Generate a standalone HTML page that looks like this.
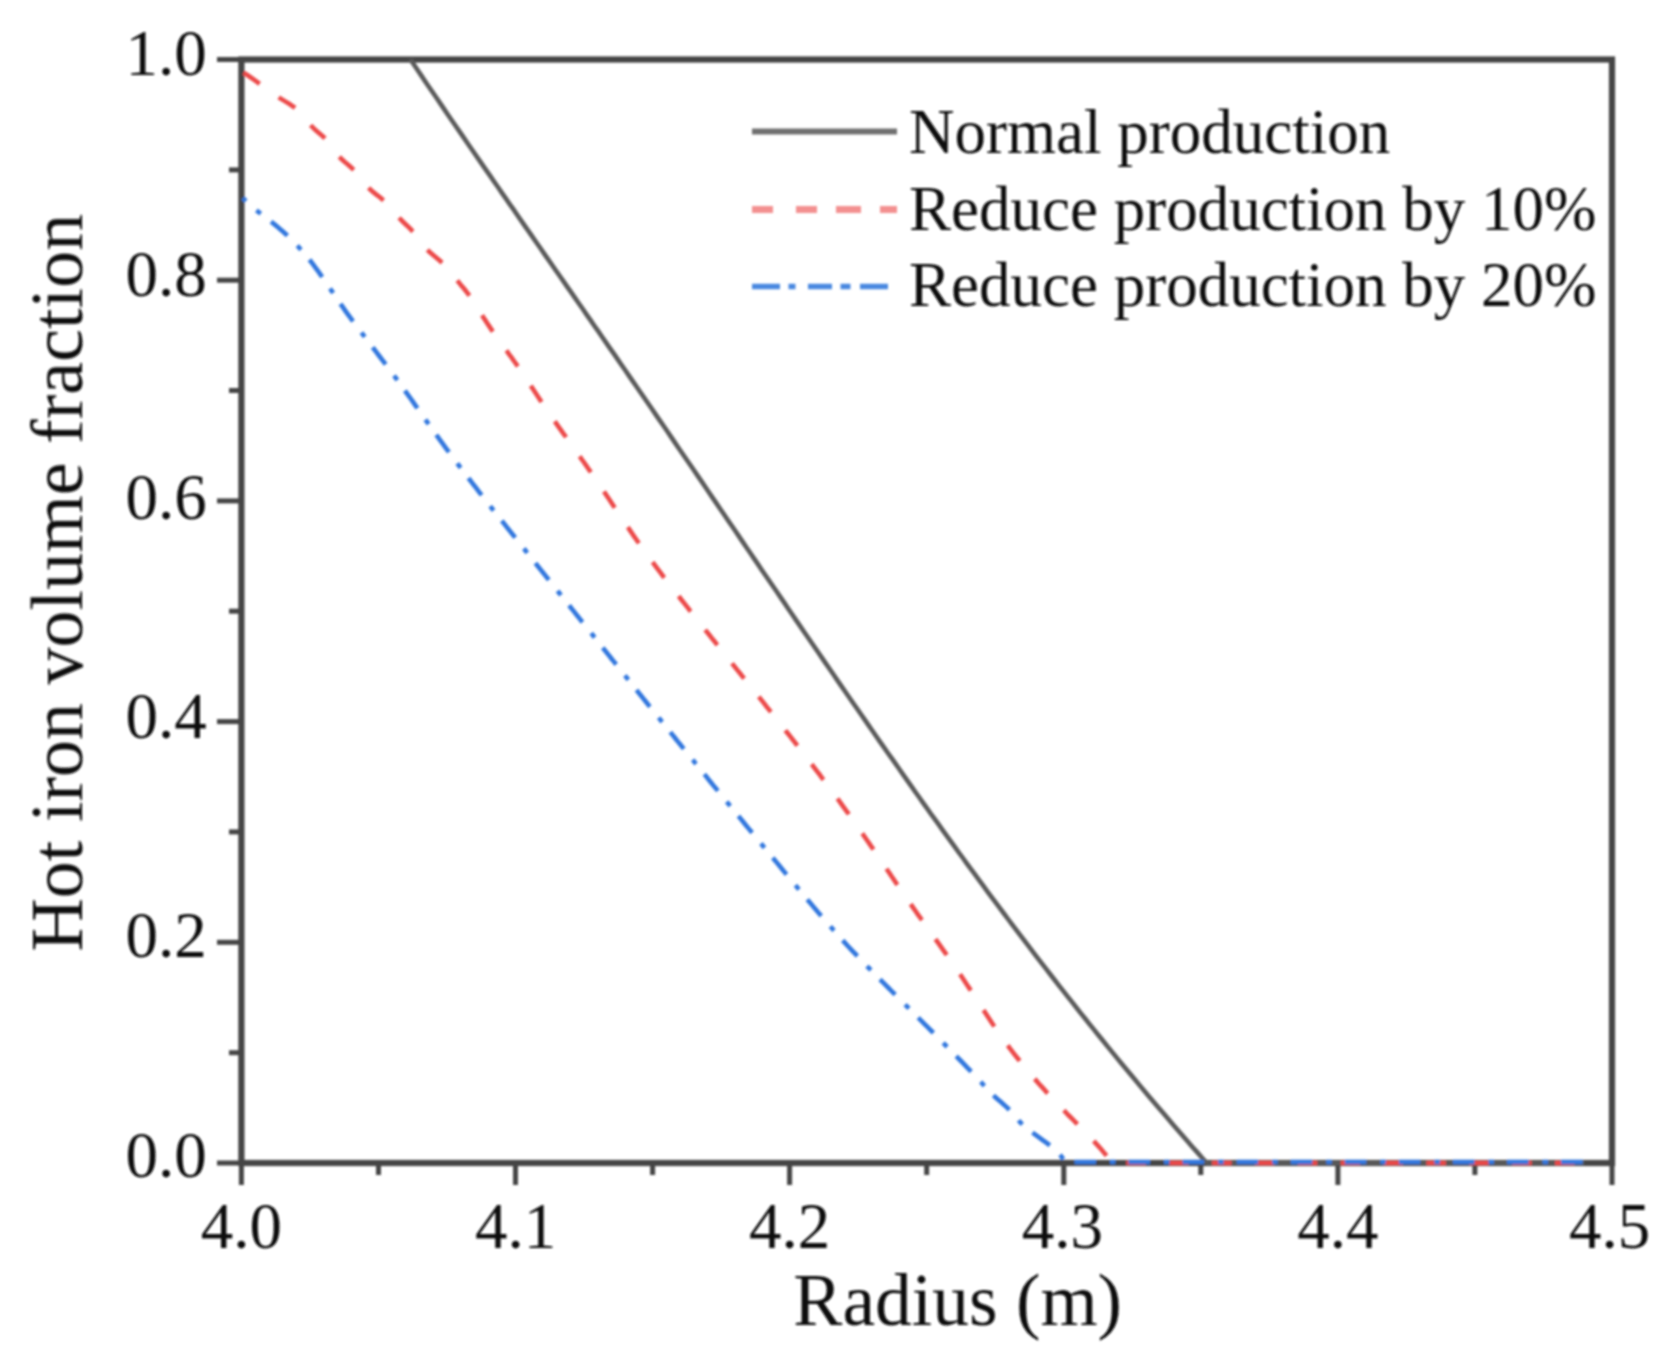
<!DOCTYPE html>
<html><head><meta charset="utf-8"><title>Hot iron volume fraction</title>
<style>
html,body{margin:0;padding:0;background:#fff;}
svg{display:block;}
.ax{stroke:#444;stroke-width:5;fill:none;}
.fr{stroke:#444;stroke-width:6.2;fill:none;}
.tk{font-family:"Liberation Serif",serif;font-size:65px;fill:#111;}
.tt{font-family:"Liberation Serif",serif;font-size:73.5px;fill:#111;}
.lg{font-family:"Liberation Serif",serif;font-size:63px;fill:#111;}
.ck{stroke:#5a5a5a;stroke-width:4.6;fill:none;stroke-linejoin:round;}
.cr{stroke:#ec4a4a;stroke-width:4.6;fill:none;stroke-dasharray:19.5 23.37;stroke-dashoffset:-2.25;stroke-linejoin:round;}
.cb{stroke:#3277de;stroke-width:4.6;fill:none;stroke-dasharray:21.5 14 5.5 13.07;stroke-dashoffset:17.25;stroke-linejoin:round;}
.lk{stroke:#707070;stroke-width:6;}
.lr{stroke:#f39090;stroke-width:7;}
.lb{stroke:#4a88e0;stroke-width:5.5;}
</style></head>
<body>
<svg width="1666" height="1360" viewBox="0 0 1666 1360">
<rect width="1666" height="1360" fill="#fff"/>
<defs><filter id="bl" x="0" y="0" width="100%" height="100%" filterUnits="userSpaceOnUse"><feGaussianBlur stdDeviation="1.2"/></filter></defs>
<g filter="url(#bl)">
<rect x="241.4" y="59.5" width="1370.6" height="1103.5" class="fr"/>
<line x1="241.4" y1="1163.0" x2="241.4" y2="1185" class="ax"/>
<line x1="515.5" y1="1163.0" x2="515.5" y2="1185" class="ax"/>
<line x1="789.6" y1="1163.0" x2="789.6" y2="1185" class="ax"/>
<line x1="1063.8" y1="1163.0" x2="1063.8" y2="1185" class="ax"/>
<line x1="1337.9" y1="1163.0" x2="1337.9" y2="1185" class="ax"/>
<line x1="1612.0" y1="1163.0" x2="1612.0" y2="1185" class="ax"/>
<line x1="378.5" y1="1163.0" x2="378.5" y2="1175" class="ax"/>
<line x1="652.6" y1="1163.0" x2="652.6" y2="1175" class="ax"/>
<line x1="926.7" y1="1163.0" x2="926.7" y2="1175" class="ax"/>
<line x1="1200.8" y1="1163.0" x2="1200.8" y2="1175" class="ax"/>
<line x1="1474.9" y1="1163.0" x2="1474.9" y2="1175" class="ax"/>
<line x1="217" y1="1163.0" x2="241.4" y2="1163.0" class="ax"/>
<line x1="217" y1="942.3" x2="241.4" y2="942.3" class="ax"/>
<line x1="217" y1="721.6" x2="241.4" y2="721.6" class="ax"/>
<line x1="217" y1="500.9" x2="241.4" y2="500.9" class="ax"/>
<line x1="217" y1="280.2" x2="241.4" y2="280.2" class="ax"/>
<line x1="217" y1="59.5" x2="241.4" y2="59.5" class="ax"/>
<line x1="229" y1="1052.7" x2="241.4" y2="1052.7" class="ax"/>
<line x1="229" y1="831.9" x2="241.4" y2="831.9" class="ax"/>
<line x1="229" y1="611.2" x2="241.4" y2="611.2" class="ax"/>
<line x1="229" y1="390.5" x2="241.4" y2="390.5" class="ax"/>
<line x1="229" y1="169.9" x2="241.4" y2="169.9" class="ax"/>
<g>
<path d="M410.4,59.5 L414.2,65.0 L417.9,70.6 L421.7,76.1 L425.4,81.7 L429.2,87.2 L433.0,92.8 L436.8,98.3 L440.6,103.9 L444.3,109.4 L448.1,115.0 L451.9,120.5 L455.7,126.0 L459.6,131.6 L463.4,137.1 L467.2,142.7 L471.0,148.2 L474.8,153.8 L478.7,159.3 L482.5,164.9 L486.3,170.4 L490.2,175.9 L494.0,181.5 L497.9,187.0 L501.7,192.6 L505.6,198.1 L509.4,203.7 L513.3,209.2 L517.1,214.8 L521.0,220.3 L524.8,225.9 L528.7,231.4 L532.5,236.9 L536.4,242.5 L540.3,248.0 L544.1,253.6 L548.0,259.1 L551.9,264.7 L555.7,270.2 L559.6,275.8 L563.5,281.3 L567.3,286.9 L571.2,292.4 L575.0,297.9 L578.9,303.5 L582.8,309.0 L586.6,314.6 L590.5,320.1 L594.3,325.7 L598.2,331.2 L602.0,336.8 L605.9,342.3 L609.7,347.9 L613.6,353.4 L617.4,358.9 L621.2,364.5 L625.1,370.0 L628.9,375.6 L632.7,381.1 L636.6,386.7 L640.4,392.2 L644.2,397.8 L648.0,403.3 L651.8,408.8 L655.6,414.4 L659.4,419.9 L663.3,425.5 L667.1,431.0 L670.9,436.6 L674.6,442.1 L678.4,447.7 L682.2,453.2 L686.0,458.8 L689.8,464.3 L693.6,469.8 L697.4,475.4 L701.2,480.9 L705.0,486.5 L708.7,492.0 L712.5,497.6 L716.3,503.1 L720.1,508.7 L723.9,514.2 L727.6,519.8 L731.4,525.3 L735.2,530.8 L739.0,536.4 L742.7,541.9 L746.5,547.5 L750.3,553.0 L754.1,558.6 L757.9,564.1 L761.6,569.7 L765.4,575.2 L769.2,580.8 L773.0,586.3 L776.8,591.8 L780.6,597.4 L784.4,602.9 L788.1,608.5 L791.9,614.0 L795.7,619.6 L799.5,625.1 L803.3,630.7 L807.1,636.2 L810.9,641.7 L814.7,647.3 L818.5,652.8 L822.3,658.4 L826.1,663.9 L830.0,669.5 L833.8,675.0 L837.6,680.6 L841.4,686.1 L845.3,691.7 L849.1,697.2 L852.9,702.7 L856.8,708.3 L860.6,713.8 L864.5,719.4 L868.3,724.9 L872.2,730.5 L876.0,736.0 L879.9,741.6 L883.8,747.1 L887.7,752.7 L891.6,758.2 L895.5,763.7 L899.4,769.3 L903.3,774.8 L907.2,780.4 L911.1,785.9 L915.0,791.5 L919.0,797.0 L922.9,802.6 L926.9,808.1 L930.8,813.7 L934.8,819.2 L938.8,824.7 L942.8,830.3 L946.8,835.8 L950.8,841.4 L954.8,846.9 L958.8,852.5 L962.9,858.0 L966.9,863.6 L971.0,869.1 L975.1,874.6 L979.1,880.2 L983.2,885.7 L987.3,891.3 L991.4,896.8 L995.6,902.4 L999.7,907.9 L1003.9,913.5 L1008.0,919.0 L1012.2,924.6 L1016.4,930.1 L1020.6,935.6 L1024.8,941.2 L1029.0,946.7 L1033.3,952.3 L1037.5,957.8 L1041.8,963.4 L1046.1,968.9 L1050.4,974.5 L1054.7,980.0 L1059.0,985.6 L1063.4,991.1 L1067.7,996.6 L1072.1,1002.2 L1076.5,1007.7 L1080.9,1013.3 L1085.3,1018.8 L1089.7,1024.4 L1094.2,1029.9 L1098.7,1035.5 L1103.2,1041.0 L1107.7,1046.6 L1112.2,1052.1 L1116.7,1057.6 L1121.3,1063.2 L1125.9,1068.7 L1130.5,1074.3 L1135.1,1079.8 L1139.7,1085.4 L1144.4,1090.9 L1149.0,1096.5 L1153.7,1102.0 L1158.4,1107.5 L1163.2,1113.1 L1167.9,1118.6 L1172.7,1124.2 L1177.5,1129.7 L1182.3,1135.3 L1187.1,1140.8 L1192.0,1146.4 L1196.9,1151.9 L1201.8,1157.5 L1206.7,1163.0 L1584.0,1163.0" class="ck"/>
<path d="M241.7,71.5 L246.0,74.2 L250.1,77.0 L253.9,79.7 L257.7,82.4 L261.4,85.2 L265.1,87.9 L268.8,90.6 L272.7,93.4 L276.8,96.1 L281.1,98.9 L285.6,101.6 L290.0,104.3 L294.0,107.1 L297.4,109.8 L300.2,112.5 L302.6,115.3 L304.7,118.0 L306.8,120.7 L309.0,123.5 L311.5,126.2 L314.3,128.9 L317.5,131.7 L320.7,134.4 L323.8,137.2 L326.4,139.9 L328.7,142.6 L330.7,145.4 L332.6,148.1 L334.4,150.8 L336.5,153.6 L338.8,156.3 L341.5,159.0 L344.5,161.8 L347.8,164.5 L350.9,167.2 L353.9,170.0 L356.4,172.7 L358.6,175.5 L360.5,178.2 L362.5,180.9 L364.6,183.7 L367.0,186.4 L369.8,189.1 L373.0,191.9 L376.4,194.6 L379.9,197.3 L383.1,200.1 L386.0,202.8 L388.6,205.5 L390.9,208.3 L393.2,211.0 L395.5,213.8 L397.9,216.5 L400.4,219.2 L403.2,222.0 L406.1,224.7 L408.9,227.4 L411.6,230.2 L414.0,232.9 L416.2,235.6 L418.2,238.4 L420.1,241.1 L422.2,243.8 L424.4,246.6 L426.8,249.3 L429.6,252.0 L432.8,254.8 L436.1,257.5 L439.4,260.3 L442.5,263.0 L445.3,265.7 L447.8,268.5 L450.1,271.2 L452.2,273.9 L454.3,276.7 L456.4,279.4 L458.6,282.1 L460.8,284.9 L463.1,287.6 L465.3,290.3 L467.5,293.1 L469.6,295.8 L471.6,298.6 L473.5,301.3 L475.2,304.0 L477.0,306.8 L478.6,309.5 L480.3,312.2 L481.9,315.0 L483.6,317.7 L485.4,320.4 L487.2,323.2 L489.0,325.9 L490.8,328.6 L492.7,331.4 L494.6,334.1 L496.6,336.9 L498.5,339.6 L500.5,342.3 L502.5,345.1 L504.5,347.8 L506.5,350.5 L508.4,353.3 L510.4,356.0 L512.4,358.7 L514.3,361.5 L516.3,364.2 L518.2,366.9 L520.1,369.7 L521.9,372.4 L523.8,375.2 L525.6,377.9 L527.4,380.6 L529.2,383.4 L531.0,386.1 L532.8,388.8 L534.6,391.6 L536.4,394.3 L538.2,397.0 L540.0,399.8 L541.8,402.5 L543.6,405.2 L545.5,408.0 L547.4,410.7 L549.2,413.4 L551.1,416.2 L553.0,418.9 L555.0,421.7 L556.9,424.4 L558.8,427.1 L560.8,429.9 L562.7,432.6 L564.7,435.3 L566.6,438.1 L568.6,440.8 L570.5,443.5 L572.5,446.3 L574.4,449.0 L576.4,451.7 L578.3,454.5 L580.3,457.2 L582.2,460.0 L584.2,462.7 L586.1,465.4 L588.0,468.2 L589.9,470.9 L591.8,473.6 L593.7,476.4 L595.6,479.1 L597.4,481.8 L599.3,484.6 L601.1,487.3 L603.0,490.0 L604.8,492.8 L606.6,495.5 L608.5,498.3 L610.3,501.0 L612.1,503.7 L613.9,506.5 L615.7,509.2 L617.6,511.9 L619.4,514.7 L621.2,517.4 L623.1,520.1 L624.9,522.9 L626.7,525.6 L628.6,528.3 L630.5,531.1 L632.3,533.8 L634.2,536.6 L636.1,539.3 L638.0,542.0 L640.0,544.8 L641.9,547.5 L643.9,550.2 L645.9,553.0 L647.8,555.7 L649.8,558.4 L651.9,561.2 L653.9,563.9 L655.9,566.6 L658.0,569.4 L660.1,572.1 L662.1,574.8 L664.2,577.6 L666.3,580.3 L668.4,583.1 L670.5,585.8 L672.7,588.5 L674.8,591.3 L676.9,594.0 L679.1,596.7 L681.2,599.5 L683.4,602.2 L685.5,604.9 L687.7,607.7 L689.8,610.4 L692.0,613.1 L694.2,615.9 L696.4,618.6 L698.5,621.4 L700.7,624.1 L702.9,626.8 L705.0,629.6 L707.2,632.3 L709.4,635.0 L711.6,637.8 L713.8,640.5 L715.9,643.2 L718.1,646.0 L720.3,648.7 L722.5,651.4 L724.7,654.2 L726.9,656.9 L729.1,659.7 L731.3,662.4 L733.4,665.1 L735.6,667.9 L737.8,670.6 L740.0,673.3 L742.2,676.1 L744.4,678.8 L746.6,681.5 L748.8,684.3 L750.9,687.0 L753.1,689.7 L755.3,692.5 L757.5,695.2 L759.7,697.9 L761.9,700.7 L764.1,703.4 L766.2,706.2 L768.4,708.9 L770.6,711.6 L772.8,714.4 L774.9,717.1 L777.1,719.8 L779.3,722.6 L781.4,725.3 L783.6,728.0 L785.7,730.8 L787.9,733.5 L790.0,736.2 L792.2,739.0 L794.3,741.7 L796.5,744.5 L798.6,747.2 L800.7,749.9 L802.8,752.7 L804.9,755.4 L807.0,758.1 L809.1,760.9 L811.2,763.6 L813.3,766.3 L815.4,769.1 L817.5,771.8 L819.6,774.5 L821.6,777.3 L823.7,780.0 L825.7,782.8 L827.8,785.5 L829.8,788.2 L831.8,791.0 L833.8,793.7 L835.8,796.4 L837.9,799.2 L839.9,801.9 L841.8,804.6 L843.8,807.4 L845.8,810.1 L847.8,812.8 L849.7,815.6 L851.7,818.3 L853.6,821.1 L855.6,823.8 L857.5,826.5 L859.4,829.3 L861.3,832.0 L863.2,834.7 L865.1,837.5 L867.0,840.2 L868.9,842.9 L870.8,845.7 L872.7,848.4 L874.5,851.1 L876.4,853.9 L878.2,856.6 L880.1,859.3 L882.0,862.1 L883.8,864.8 L885.7,867.6 L887.5,870.3 L889.4,873.0 L891.2,875.8 L893.1,878.5 L894.9,881.2 L896.8,884.0 L898.7,886.7 L900.5,889.4 L902.4,892.2 L904.3,894.9 L906.2,897.6 L908.1,900.4 L910.0,903.1 L911.9,905.9 L913.8,908.6 L915.7,911.3 L917.6,914.1 L919.6,916.8 L921.5,919.5 L923.5,922.3 L925.4,925.0 L927.4,927.7 L929.3,930.5 L931.3,933.2 L933.2,935.9 L935.2,938.7 L937.1,941.4 L939.1,944.2 L941.0,946.9 L942.9,949.6 L944.9,952.4 L946.8,955.1 L948.7,957.8 L950.6,960.6 L952.5,963.3 L954.4,966.0 L956.3,968.8 L958.2,971.5 L960.0,974.2 L961.9,977.0 L963.7,979.7 L965.5,982.5 L967.3,985.2 L969.1,987.9 L970.9,990.7 L972.6,993.4 L974.4,996.1 L976.2,998.9 L978.0,1001.6 L979.7,1004.3 L981.5,1007.1 L983.3,1009.8 L985.1,1012.5 L986.9,1015.3 L988.7,1018.0 L990.5,1020.7 L992.3,1023.5 L994.2,1026.2 L996.0,1029.0 L997.9,1031.7 L999.8,1034.4 L1001.8,1037.2 L1003.7,1039.9 L1005.7,1042.6 L1007.7,1045.4 L1009.7,1048.1 L1011.8,1050.8 L1013.9,1053.6 L1016.0,1056.3 L1018.2,1059.0 L1020.4,1061.8 L1022.6,1064.5 L1024.9,1067.3 L1027.1,1070.0 L1029.4,1072.7 L1031.8,1075.5 L1034.1,1078.2 L1036.5,1080.9 L1038.9,1083.7 L1041.4,1086.4 L1043.9,1089.1 L1046.3,1091.9 L1048.9,1094.6 L1051.4,1097.3 L1054.0,1100.1 L1056.6,1102.8 L1059.2,1105.6 L1061.8,1108.3 L1064.5,1111.0 L1067.1,1113.8 L1069.8,1116.5 L1072.5,1119.2 L1075.2,1122.0 L1078.0,1124.7 L1080.6,1127.4 L1083.3,1130.2 L1086.0,1132.9 L1088.6,1135.6 L1091.2,1138.4 L1093.8,1141.1 L1096.3,1143.9 L1098.8,1146.6 L1101.2,1149.3 L1103.5,1152.1 L1105.8,1154.8 L1108.0,1157.5 L1110.2,1160.3 L1112.2,1163.0 L1584.0,1163.0" class="cr"/>
<path d="M243.0,198.0 L245.2,200.4 L247.6,202.8 L250.3,205.2 L253.1,207.7 L256.1,210.1 L259.2,212.5 L262.4,214.9 L265.5,217.3 L268.7,219.7 L271.8,222.2 L274.8,224.6 L277.7,227.0 L280.5,229.4 L283.2,231.8 L285.9,234.2 L288.4,236.7 L290.9,239.1 L293.3,241.5 L295.7,243.9 L297.9,246.3 L300.1,248.7 L302.3,251.2 L304.4,253.6 L306.4,256.0 L308.3,258.4 L310.3,260.8 L312.2,263.2 L314.0,265.6 L315.8,268.1 L317.6,270.5 L319.3,272.9 L321.0,275.3 L322.7,277.7 L324.4,280.1 L326.0,282.6 L327.7,285.0 L329.3,287.4 L330.9,289.8 L332.6,292.2 L334.2,294.6 L335.8,297.1 L337.5,299.5 L339.1,301.9 L340.8,304.3 L342.5,306.7 L344.2,309.1 L345.9,311.6 L347.6,314.0 L349.4,316.4 L351.2,318.8 L352.9,321.2 L354.7,323.6 L356.5,326.1 L358.3,328.5 L360.1,330.9 L362.0,333.3 L363.8,335.7 L365.6,338.1 L367.5,340.5 L369.3,343.0 L371.2,345.4 L373.0,347.8 L374.9,350.2 L376.7,352.6 L378.5,355.0 L380.4,357.5 L382.2,359.9 L384.1,362.3 L385.9,364.7 L387.7,367.1 L389.5,369.5 L391.3,372.0 L393.1,374.4 L394.9,376.8 L396.7,379.2 L398.4,381.6 L400.2,384.0 L401.9,386.5 L403.7,388.9 L405.4,391.3 L407.1,393.7 L408.9,396.1 L410.6,398.5 L412.3,400.9 L414.0,403.4 L415.7,405.8 L417.4,408.2 L419.1,410.6 L420.8,413.0 L422.5,415.4 L424.2,417.9 L425.9,420.3 L427.6,422.7 L429.3,425.1 L431.0,427.5 L432.7,429.9 L434.5,432.4 L436.2,434.8 L438.0,437.2 L439.7,439.6 L441.5,442.0 L443.2,444.4 L445.0,446.9 L446.8,449.3 L448.6,451.7 L450.4,454.1 L452.2,456.5 L454.0,458.9 L455.8,461.3 L457.6,463.8 L459.4,466.2 L461.2,468.6 L463.1,471.0 L464.9,473.4 L466.8,475.8 L468.6,478.3 L470.5,480.7 L472.3,483.1 L474.2,485.5 L476.1,487.9 L477.9,490.3 L479.8,492.8 L481.7,495.2 L483.6,497.6 L485.5,500.0 L487.4,502.4 L489.2,504.8 L491.1,507.3 L493.0,509.7 L494.9,512.1 L496.8,514.5 L498.7,516.9 L500.7,519.3 L502.6,521.7 L504.5,524.2 L506.4,526.6 L508.3,529.0 L510.2,531.4 L512.1,533.8 L514.1,536.2 L516.0,538.7 L517.9,541.1 L519.8,543.5 L521.7,545.9 L523.7,548.3 L525.6,550.7 L527.5,553.2 L529.4,555.6 L531.4,558.0 L533.3,560.4 L535.2,562.8 L537.1,565.2 L539.1,567.7 L541.0,570.1 L542.9,572.5 L544.8,574.9 L546.7,577.3 L548.7,579.7 L550.6,582.2 L552.5,584.6 L554.4,587.0 L556.4,589.4 L558.3,591.8 L560.2,594.2 L562.1,596.6 L564.0,599.1 L566.0,601.5 L567.9,603.9 L569.8,606.3 L571.7,608.7 L573.7,611.1 L575.6,613.6 L577.5,616.0 L579.4,618.4 L581.3,620.8 L583.3,623.2 L585.2,625.6 L587.1,628.1 L589.0,630.5 L591.0,632.9 L592.9,635.3 L594.8,637.7 L596.7,640.1 L598.7,642.6 L600.6,645.0 L602.5,647.4 L604.4,649.8 L606.4,652.2 L608.3,654.6 L610.2,657.0 L612.1,659.5 L614.1,661.9 L616.0,664.3 L617.9,666.7 L619.8,669.1 L621.8,671.5 L623.7,674.0 L625.6,676.4 L627.6,678.8 L629.5,681.2 L631.4,683.6 L633.4,686.0 L635.3,688.5 L637.2,690.9 L639.1,693.3 L641.1,695.7 L643.0,698.1 L644.9,700.5 L646.9,703.0 L648.8,705.4 L650.8,707.8 L652.7,710.2 L654.6,712.6 L656.6,715.0 L658.5,717.4 L660.5,719.9 L662.4,722.3 L664.3,724.7 L666.3,727.1 L668.2,729.5 L670.2,731.9 L672.1,734.4 L674.1,736.8 L676.0,739.2 L677.9,741.6 L679.9,744.0 L681.8,746.4 L683.8,748.9 L685.7,751.3 L687.7,753.7 L689.6,756.1 L691.6,758.5 L693.6,760.9 L695.5,763.4 L697.5,765.8 L699.4,768.2 L701.4,770.6 L703.3,773.0 L705.3,775.4 L707.3,777.8 L709.2,780.3 L711.2,782.7 L713.1,785.1 L715.1,787.5 L717.1,789.9 L719.0,792.3 L721.0,794.8 L723.0,797.2 L724.9,799.6 L726.9,802.0 L728.9,804.4 L730.9,806.8 L732.8,809.3 L734.8,811.7 L736.8,814.1 L738.8,816.5 L740.8,818.9 L742.7,821.3 L744.7,823.8 L746.7,826.2 L748.7,828.6 L750.7,831.0 L752.7,833.4 L754.6,835.8 L756.6,838.3 L758.6,840.7 L760.6,843.1 L762.6,845.5 L764.6,847.9 L766.6,850.3 L768.6,852.7 L770.6,855.2 L772.6,857.6 L774.6,860.0 L776.6,862.4 L778.6,864.8 L780.6,867.2 L782.6,869.7 L784.6,872.1 L786.6,874.5 L788.6,876.9 L790.6,879.3 L792.6,881.7 L794.6,884.2 L796.6,886.6 L798.6,889.0 L800.6,891.4 L802.6,893.8 L804.6,896.2 L806.6,898.7 L808.6,901.1 L810.7,903.5 L812.7,905.9 L814.7,908.3 L816.8,910.7 L818.8,913.1 L820.9,915.6 L823.0,918.0 L825.0,920.4 L827.1,922.8 L829.2,925.2 L831.3,927.6 L833.5,930.1 L835.6,932.5 L837.8,934.9 L839.9,937.3 L842.1,939.7 L844.3,942.1 L846.5,944.6 L848.8,947.0 L851.0,949.4 L853.3,951.8 L855.6,954.2 L857.9,956.6 L860.2,959.1 L862.5,961.5 L864.8,963.9 L867.1,966.3 L869.5,968.7 L871.9,971.1 L874.2,973.5 L876.6,976.0 L879.0,978.4 L881.4,980.8 L883.8,983.2 L886.2,985.6 L888.6,988.0 L891.0,990.5 L893.4,992.9 L895.8,995.3 L898.2,997.7 L900.6,1000.1 L903.1,1002.5 L905.5,1005.0 L907.9,1007.4 L910.3,1009.8 L912.7,1012.2 L915.1,1014.6 L917.6,1017.0 L920.0,1019.5 L922.4,1021.9 L924.8,1024.3 L927.2,1026.7 L929.6,1029.1 L932.0,1031.5 L934.4,1033.9 L936.8,1036.4 L939.2,1038.8 L941.5,1041.2 L943.9,1043.6 L946.3,1046.0 L948.7,1048.4 L951.0,1050.9 L953.4,1053.3 L955.8,1055.7 L958.1,1058.1 L960.5,1060.5 L962.8,1062.9 L965.2,1065.4 L967.5,1067.8 L969.8,1070.2 L972.1,1072.6 L974.4,1075.0 L976.6,1077.4 L978.9,1079.9 L981.1,1082.3 L983.3,1084.7 L985.5,1087.1 L987.8,1089.5 L990.0,1091.9 L992.4,1094.4 L994.9,1096.8 L997.6,1099.2 L1000.4,1101.6 L1003.1,1104.0 L1005.8,1106.4 L1008.4,1108.8 L1010.8,1111.3 L1012.9,1113.7 L1015.0,1116.1 L1017.0,1118.5 L1019.0,1120.9 L1021.3,1123.3 L1023.9,1125.8 L1026.8,1128.2 L1029.8,1130.6 L1033.0,1133.0 L1036.3,1135.4 L1039.7,1137.8 L1043.0,1140.3 L1046.3,1142.7 L1049.5,1145.1 L1052.5,1147.5 L1055.3,1149.9 L1057.8,1152.3 L1060.1,1154.8 L1061.9,1157.2 L1063.4,1159.6 L1064.3,1162.0 L1584.0,1162.0" class="cb"/>
</g>
<text x="206.8" y="1177.1" class="tk" text-anchor="end">0.0</text>
<text x="206.8" y="956.9" class="tk" text-anchor="end">0.2</text>
<text x="206.8" y="737.8" class="tk" text-anchor="end">0.4</text>
<text x="206.8" y="518.5" class="tk" text-anchor="end">0.6</text>
<text x="206.8" y="296.0" class="tk" text-anchor="end">0.8</text>
<text x="206.8" y="74.7" class="tk" text-anchor="end">1.0</text>
<text x="241.4" y="1247.5" class="tk" text-anchor="middle">4.0</text>
<text x="515.5" y="1247.5" class="tk" text-anchor="middle">4.1</text>
<text x="789.6" y="1247.5" class="tk" text-anchor="middle">4.2</text>
<text x="1062.3" y="1247.5" class="tk" text-anchor="middle">4.3</text>
<text x="1337.9" y="1247.5" class="tk" text-anchor="middle">4.4</text>
<text x="1609.7" y="1247.5" class="tk" text-anchor="middle">4.5</text>
<text x="957.7" y="1325" class="tt" text-anchor="middle">Radius (m)</text>
<text transform="translate(82,582.8) rotate(-90)" class="tt" text-anchor="middle" style="font-size:74px">Hot iron volume fraction</text>
<line x1="752" y1="131.6" x2="897" y2="131.6" class="lk"/>
<line x1="752" y1="209.5" x2="773" y2="209.5" class="lr"/>
<line x1="796" y1="209.5" x2="817" y2="209.5" class="lr"/>
<line x1="836" y1="209.5" x2="861" y2="209.5" class="lr"/>
<line x1="880" y1="209.5" x2="897" y2="209.5" class="lr"/>
<line x1="752" y1="286.5" x2="780" y2="286.5" class="lb"/>
<line x1="788.5" y1="286.5" x2="795.5" y2="286.5" class="lb"/>
<line x1="808" y1="286.5" x2="832" y2="286.5" class="lb"/>
<line x1="840.5" y1="286.5" x2="850.5" y2="286.5" class="lb"/>
<line x1="860" y1="286.5" x2="888" y2="286.5" class="lb"/>
<text x="909" y="153" class="lg">Normal production</text>
<text x="909" y="229.5" class="lg">Reduce production by 10%</text>
<text x="909" y="306" class="lg">Reduce production by 20%</text>
</g>
</svg>
</body></html>
